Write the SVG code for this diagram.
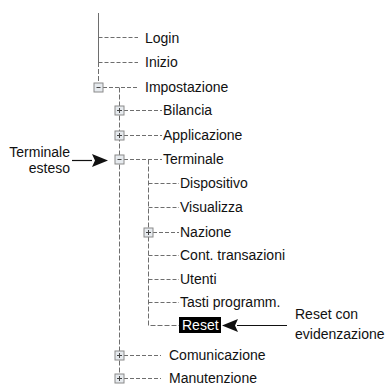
<svg xmlns="http://www.w3.org/2000/svg" width="386" height="385" viewBox="0 0 386 385">
<style>
text{font-family:"Liberation Sans",Arial,sans-serif;font-size:14px;fill:#111}
.c{stroke:#6e6e6e;stroke-width:1;fill:none;stroke-dasharray:4 2}
.v{stroke:#6e6e6e;stroke-width:1;fill:none;stroke-dasharray:5 2}
.s{stroke:#6e6e6e;stroke-width:1;fill:none}
.box{fill:#e6eaee;stroke:#8a8a8a;stroke-width:1}
.sign{stroke:#444;stroke-width:1;fill:none}
.arr{stroke:#111;stroke-width:1.2;fill:none}
</style>
<defs>
<g id="plus"><rect class="box" x="-4.5" y="-4.5" width="9" height="9"/><path class="sign" d="M-2.5 0H2.5M0 -2.5V2.5"/></g>
<g id="minus"><rect class="box" x="-4.5" y="-4.5" width="9" height="9"/><path class="sign" d="M-2 0H2"/></g>
</defs>
<rect width="386" height="385" fill="#fff"/>
<g id="connectors">
<path class="s" d="M98.5 13V62"/>
<path class="v" d="M98.5 62V82"/>
<path class="c" d="M98.5 37.5H138M98.5 62.5H138M103 87.5H138"/>
<path class="v" d="M119.5 87.5V374"/>
<path class="c" d="M124 110.5H162M124 135.5H162M124 159.5H162M124 355.5H161M124 378.5H161"/>
<path class="v" d="M148.5 159.5V325.5H179"/>
<path class="c" d="M148.5 183.5H179M148.5 207.5H179M153 232.5H179M148.5 255.5H179M148.5 279.5H179M148.5 302.5H179"/>
<path class="arr" d="M72 160.5H92"/>
<path d="M108 160.5L92 154L95 160.5L92 167Z" fill="#111"/>
<path class="arr" d="M237 325.5H287"/>
<path d="M222 325.5L238 319L235 325.5L238 332Z" fill="#111"/>
</g>
<g id="login"><text x="145" y="43">Login</text></g>
<g id="inizio"><text x="145" y="67">Inizio</text></g>
<g id="impostazione"><use href="#minus" x="98.5" y="87.5"/><text x="145" y="92">Impostazione</text></g>
<g id="bilancia"><use href="#plus" x="119.5" y="110.5"/><text x="163" y="115">Bilancia</text></g>
<g id="applicazione"><use href="#plus" x="119.5" y="135.5"/><text x="163" y="140">Applicazione</text></g>
<g id="terminale"><use href="#minus" x="119.5" y="159.5"/><text x="163" y="164">Terminale</text></g>
<g id="dispositivo"><text x="180" y="188">Dispositivo</text></g>
<g id="visualizza"><text x="180" y="212">Visualizza</text></g>
<g id="nazione"><use href="#plus" x="148.5" y="232.5"/><text x="180" y="237">Nazione</text></g>
<g id="cont"><text x="180" y="260">Cont. transazioni</text></g>
<g id="utenti"><text x="180" y="284">Utenti</text></g>
<g id="tasti"><text x="180" y="307">Tasti programm.</text></g>
<g id="reset"><rect x="179" y="317" width="42" height="16" fill="#000"/><text x="182" y="330" style="fill:#fff">Reset</text></g>
<g id="comunicazione"><use href="#plus" x="119.5" y="355.5"/><text x="169" y="360">Comunicazione</text></g>
<g id="manutenzione"><use href="#plus" x="119.5" y="378.5"/><text x="169" y="383">Manutenzione</text></g>
<g id="label-terminale-esteso"><text x="70" y="157" text-anchor="end">Terminale</text><text x="70" y="173" text-anchor="end">esteso</text></g>
<g id="label-reset"><text x="295" y="319">Reset con</text><text x="295" y="339">evidenzazione</text></g>
</svg>
